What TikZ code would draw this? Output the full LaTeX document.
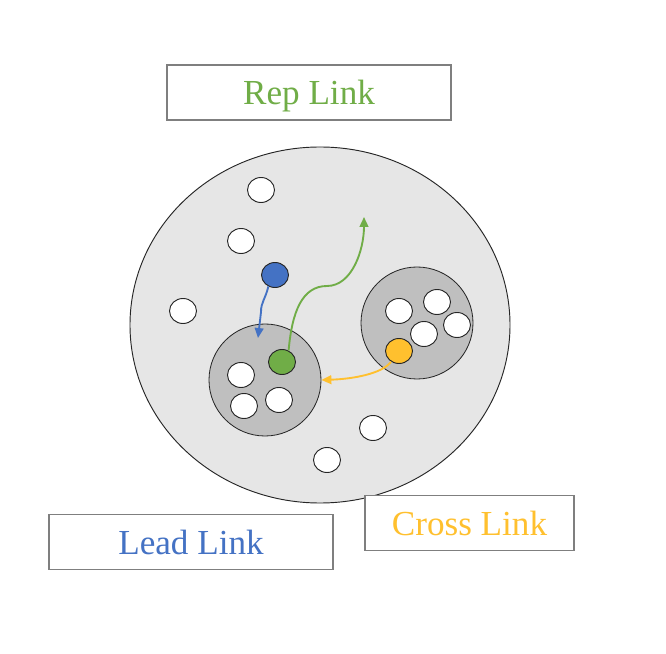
\documentclass[tikz,border=0pt]{standalone}
\usepackage{fontspec}
\setmainfont{Liberation Serif}
\usetikzlibrary{shapes.geometric,arrows.meta,positioning}
\definecolor{repgreen}{HTML}{70AD47}
\definecolor{leadblue}{HTML}{4472C4}
\definecolor{crossyellow}{HTML}{FFC02E}
\definecolor{groupfill}{HTML}{E6E6E6}
\definecolor{subfill}{HTML}{BFBFBF}
\definecolor{boxline}{HTML}{7F7F7F}

\tikzset{
  member/.style={ellipse, draw=black!85, line width=0.8pt, fill=white, inner sep=0pt,
    minimum width=0.81cm, minimum height=0.75cm},
  subgroup/.style={circle, draw=black!85, line width=0.7pt, fill=subfill, inner sep=0pt,
    minimum size=3.36cm},
  linkbox/.style={draw=boxline, line width=0.9pt, fill=white, inner sep=0pt,
    minimum height=1.65cm, text depth=0pt, font=\fontsize{30}{36}\selectfont},
  linkarrow/.style={line width=1.6pt, -{Triangle[length=8.5pt,width=7.5pt]}}
}

\begin{document}
\begin{tikzpicture}[x=0.03cm, y=-0.03cm]
  \useasboundingbox (0,0) rectangle (666,654);

  % outer group
  \node[ellipse, draw=black!85, line width=0.8pt, fill=groupfill, inner sep=0pt,
    minimum width=11.4cm, minimum height=10.68cm] (group) at (320,325) {};

  % two subgroups
  \node[subgroup] (lsub) at (265,380) {};
  \node[subgroup] (rsub) at (417,323) {};

  % free members
  \node[member] (m1) at (261,190) {};
  \node[member] (m2) at (241,241) {};
  \node[member] (m3) at (183,311) {};
  \node[member] (m4) at (373,428) {};
  \node[member] (m5) at (327,460) {};

  % members of left subgroup
  \node[member] (l1) at (241,375) {};
  \node[member] (l2) at (244,406) {};
  \node[member] (l3) at (279,400) {};
  \node[member, fill=repgreen] (green) at (282,362) {};

  % members of right subgroup
  \node[member] (r1) at (399,311) {};
  \node[member] (r2) at (437,302) {};
  \node[member] (r3) at (424,334) {};
  \node[member] (r4) at (457,325) {};
  \node[member, fill=crossyellow] (yellow) at (399,351) {};

  \node[member, fill=leadblue] (blue) at (275,275) {};

  % links
  \coordinate (bluetip) at (258,338);
  \coordinate (greenbend) at (327,286);
  \coordinate (greentip) at (364,217);
  \draw[linkarrow, leadblue] (blue.240) .. controls (265,300) and (261,302) .. (261,312) -- (bluetip);
  \draw[linkarrow, repgreen] (green.60) .. controls (292,312) and (302,286) .. (greenbend)
    .. controls (352,286) and (364,250) .. (greentip);
  \draw[linkarrow, crossyellow] (yellow) .. controls (382,374) and (352,379) .. (lsub.east);

  % labels
  \node[linkbox, minimum width=8.52cm, text=repgreen] (rep) at (309,92.5) {Rep Link};
  \node[linkbox, minimum width=8.52cm, text=leadblue] (lead) at (191,542) {Lead Link};
  \node[linkbox, minimum width=6.27cm, text=crossyellow] (cross) at (469.5,523) {Cross Link};
\end{tikzpicture}
\end{document}
